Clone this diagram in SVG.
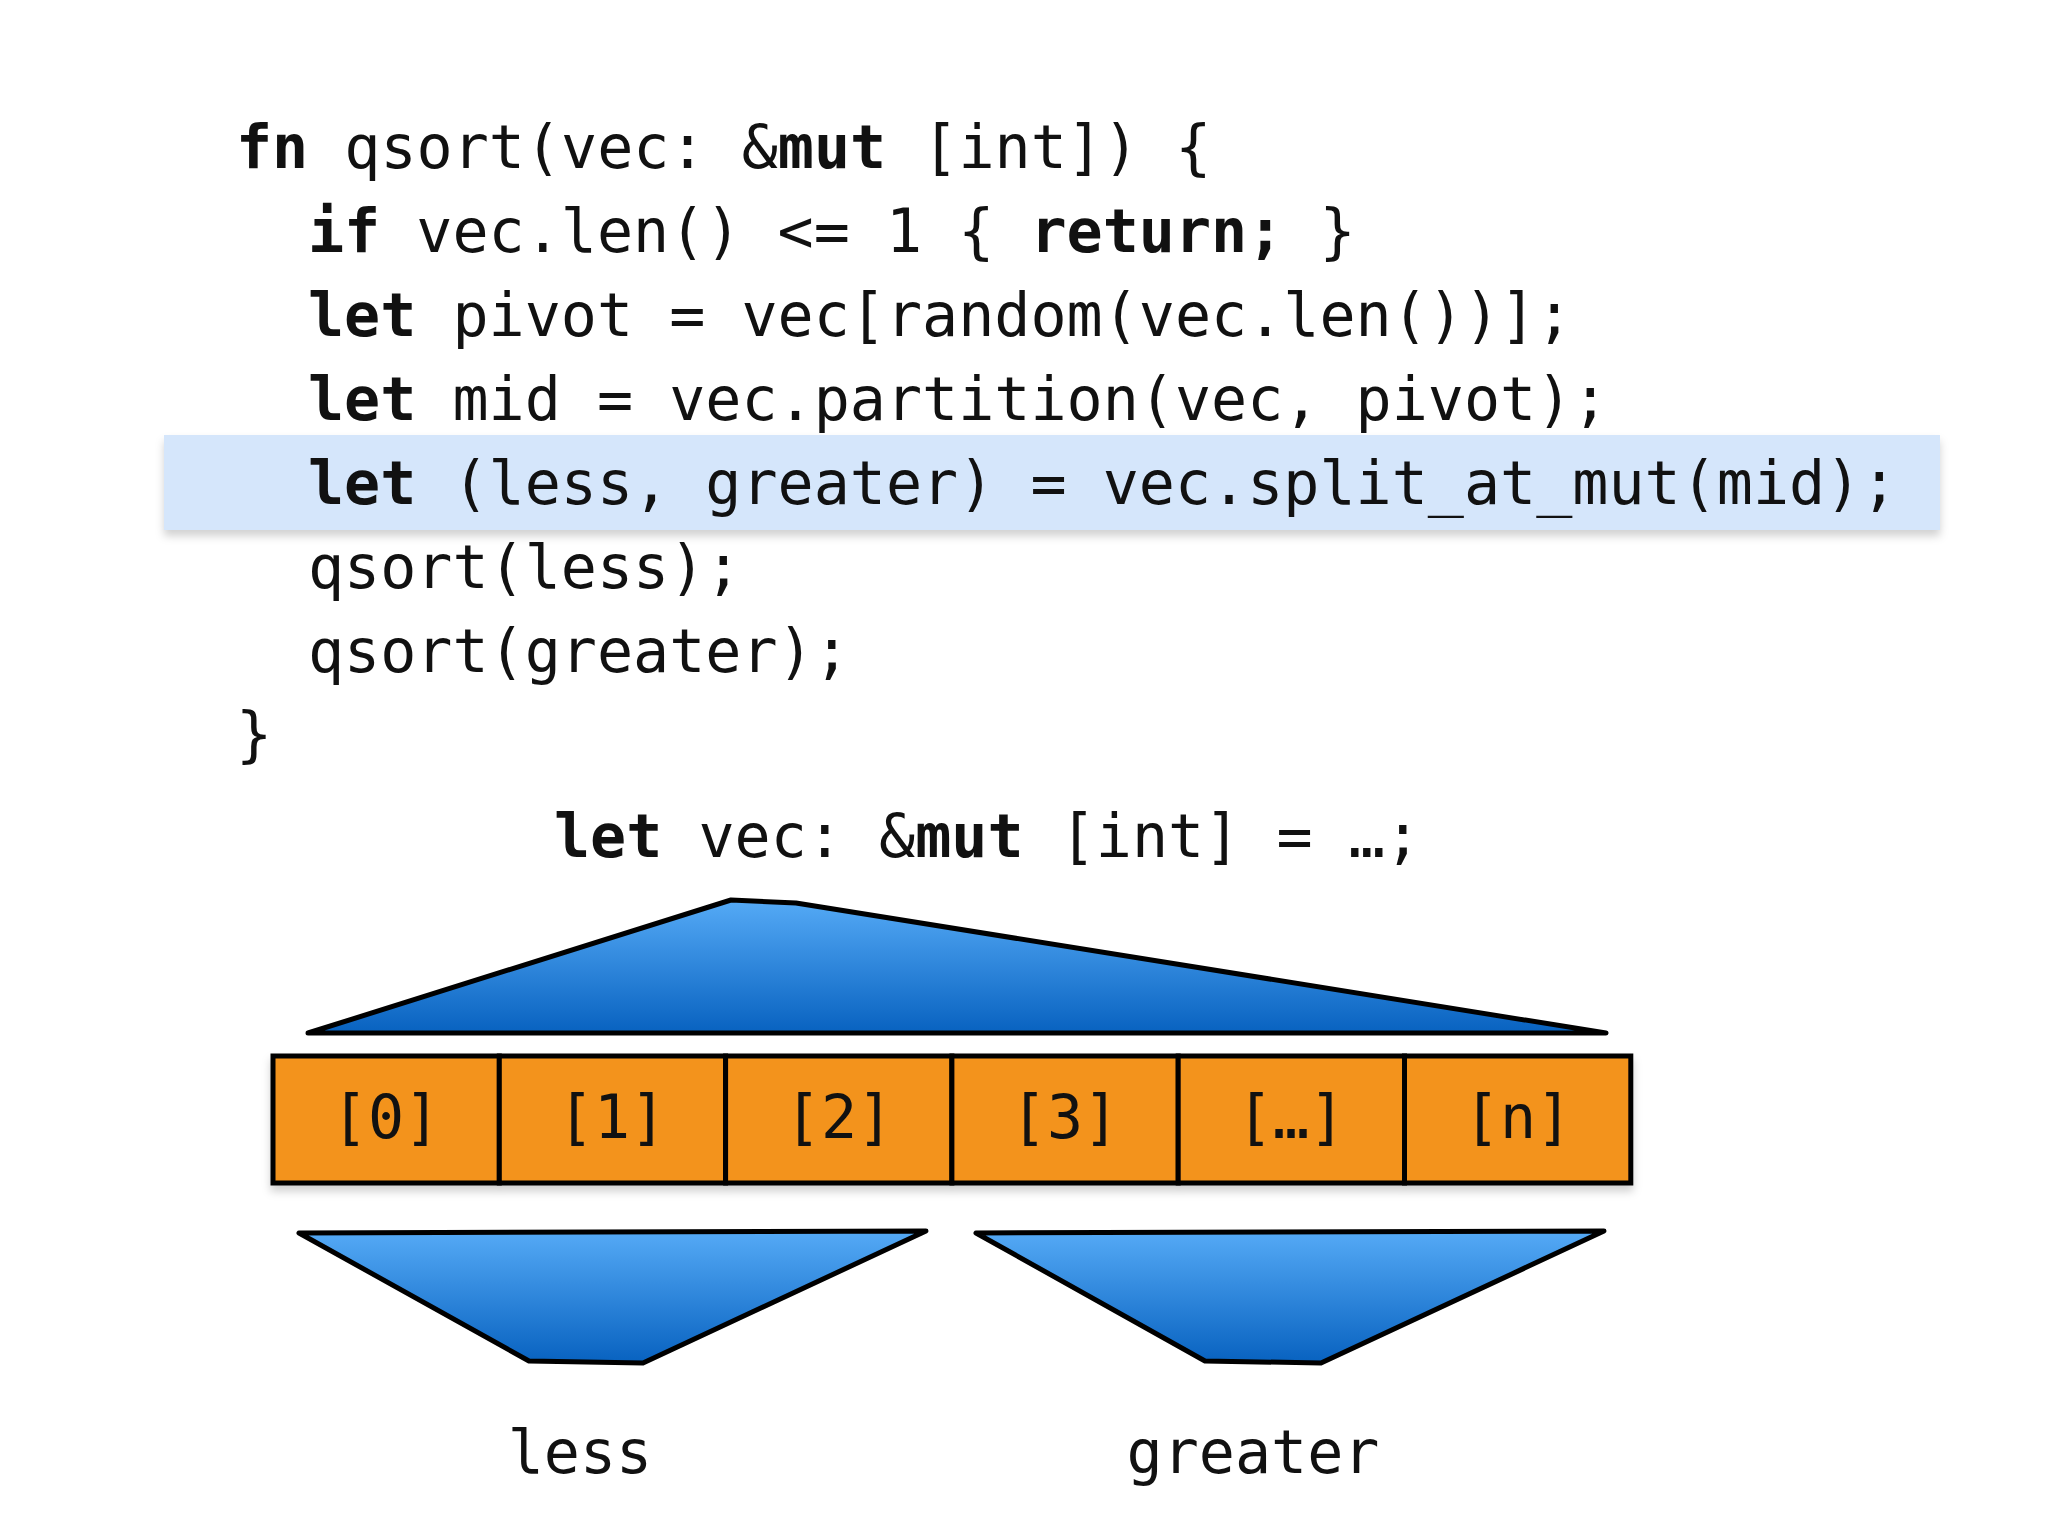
<svg xmlns="http://www.w3.org/2000/svg" width="2048" height="1536" viewBox="0 0 2048 1536">
<defs>
<linearGradient id="blue" x1="0" y1="0" x2="0" y2="1">
<stop offset="0" stop-color="#55aaf6"/>
<stop offset="1" stop-color="#0862c0"/>
</linearGradient>
<filter id="sh" x="-5%" y="-20%" width="110%" height="150%">
<feDropShadow dx="0" dy="6" stdDeviation="4" flood-color="#000" flood-opacity="0.18"/>
</filter>
</defs>
<style>
.code{font-family:"DejaVu Sans Mono","Liberation Mono",monospace;font-size:60px;fill:#111}
.b{font-weight:bold}
.shape{fill:url(#blue);stroke:#000;stroke-width:5;stroke-linejoin:round}
.cell{fill:#f3931f;stroke:#000;stroke-width:5}
.lbl{font-family:"DejaVu Sans Mono","Liberation Mono",monospace;font-size:60px;fill:#111;text-anchor:middle}
</style>
<rect width="2048" height="1536" fill="#fff"/>
<g id="highlight">
<rect x="164" y="435" width="1776" height="95" fill="#d5e6fb" filter="url(#sh)"/>
</g>
<g id="code">
<text class="code" x="236" y="168" xml:space="preserve"><tspan class="b">fn</tspan> qsort(vec: &amp;<tspan class="b">mut</tspan> [int]) {</text>
<text class="code" x="308" y="252" xml:space="preserve"><tspan class="b">if</tspan> vec.len() &lt;= 1 { <tspan class="b">return;</tspan> }</text>
<text class="code" x="308" y="336" xml:space="preserve"><tspan class="b">let</tspan> pivot = vec[random(vec.len())];</text>
<text class="code" x="308" y="420" xml:space="preserve"><tspan class="b">let</tspan> mid = vec.partition(vec, pivot);</text>
<text class="code" x="308" y="504" xml:space="preserve"><tspan class="b">let</tspan> (less, greater) = vec.split_at_mut(mid);</text>
<text class="code" x="308" y="588" xml:space="preserve">qsort(less);</text>
<text class="code" x="308" y="672" xml:space="preserve">qsort(greater);</text>
<text class="code" x="236" y="755" xml:space="preserve">}</text>
</g>
<g id="vec-label">
<text class="code" x="554" y="857" xml:space="preserve"><tspan class="b">let</tspan> vec: &amp;<tspan class="b">mut</tspan> [int] = …;</text>
</g>
<g id="vec-shape">
<polygon class="shape" points="308,1033 731,900 796,903 1606,1033"/>
</g>
<g id="array" filter="url(#sh)">
<rect class="cell" x="273" y="1056" width="226.3" height="127"/>
<rect class="cell" x="499.3" y="1056" width="226.3" height="127"/>
<rect class="cell" x="725.6" y="1056" width="226.3" height="127"/>
<rect class="cell" x="951.9" y="1056" width="226.3" height="127"/>
<rect class="cell" x="1178.2" y="1056" width="226.3" height="127"/>
<rect class="cell" x="1404.5" y="1056" width="226.3" height="127"/>
</g>
<g id="array-labels">
<text class="lbl" x="386" y="1138">[0]</text>
<text class="lbl" x="612" y="1138">[1]</text>
<text class="lbl" x="839" y="1138">[2]</text>
<text class="lbl" x="1065" y="1138">[3]</text>
<text class="lbl" x="1291" y="1138">[…]</text>
<text class="lbl" x="1518" y="1138">[n]</text>
</g>
<g id="less">
<polygon class="shape" points="299,1233 926,1231 643,1363 529,1361"/>
<text class="lbl" x="580" y="1473">less</text>
</g>
<g id="greater">
<polygon class="shape" points="976,1233 1604,1231 1321,1363 1205,1361"/>
<text class="lbl" x="1253" y="1473">greater</text>
</g>
</svg>
